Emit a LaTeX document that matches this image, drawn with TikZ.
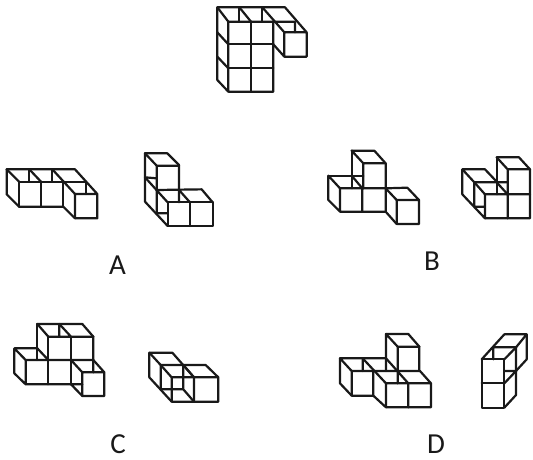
\documentclass[tikz,border=0pt]{standalone}
\usepackage{fontspec}
\setmainfont{Carlito}
\tikzset{
  cubeline/.style={draw=black!90,line width=2.2pt,line join=round,line cap=round},
  fig/.style={shift={#1},scale=0.33333},
  optlabel/.style={font=\fontsize{29}{29}\selectfont,text=black!90,inner sep=0pt}
}
\begin{document}
\begin{tikzpicture}[x=1pt,y=-1pt]
\useasboundingbox (0,0) rectangle (533,459);
% reference figure
\begin{scope}[fig={(200,0)}]
\draw[cubeline] (52,22)--(255,22)--(320,97)--(320,170)--(253,170)--(253,97)--(320,97);
\draw[cubeline] (52,22)--(52,240)--(85,275)--(220,275)--(220,65)--(85,65)--(85,275);
\draw[cubeline] (153,65)--(153,275) (85,133)--(220,133) (85,205)--(220,205);
\draw[cubeline] (52,22)--(85,65) (118,22)--(153,65) (187,22)--(253,97);
\draw[cubeline] (118,22)--(118,65) (187,22)--(187,65);
\draw[cubeline] (52,97)--(85,133) (52,170)--(85,205);
\draw[cubeline] (220,65)--(285,65)--(285,97) (220,133)--(253,170);
\end{scope}
% A left
\begin{scope}[fig={(0,145)}]
\draw[cubeline] (20,73)--(225,73)--(292,147)--(292,220)--(225,220)--(225,147)--(292,147);
\draw[cubeline] (20,73)--(20,148)--(57,185)--(190,185)--(225,220);
\draw[cubeline] (57,110)--(258,110)--(258,147);
\draw[cubeline] (57,110)--(57,185) (123,110)--(123,185) (190,110)--(190,185);
\draw[cubeline] (20,73)--(57,110) (88,73)--(123,110) (157,73)--(225,147);
\draw[cubeline] (88,73)--(88,110) (157,73)--(157,110);
\end{scope}
% A right
\begin{scope}[fig={(130,145)}]
\draw[cubeline] (45,25)--(112,25)--(147,60)--(147,172);
\draw[cubeline] (45,25)--(80,62)--(147,62) (80,62)--(80,205)--(113,205);
\draw[cubeline] (45,25)--(45,170)--(113,243);
\draw[cubeline] (45,97)--(113,172) (45,97)--(80,100);
\draw[cubeline] (113,172)--(248,172)--(248,243)--(113,243)--cycle (180,172)--(180,243);
\draw[cubeline] (80,135)--(215,133)--(248,172) (147,135)--(180,172);
\end{scope}
% B left
\begin{scope}[fig={(320,145)}]
\draw[cubeline] (95,17)--(163,17)--(197,55)--(197,200);
\draw[cubeline] (95,17)--(130,55)--(197,55) (130,55)--(130,130);
\draw[cubeline] (95,17)--(95,130) (25,92)--(130,92);
\draw[cubeline] (25,92)--(60,130)--(60,200)--(197,200) (25,92)--(25,165)--(60,200);
\draw[cubeline] (60,130)--(197,130) (127,130)--(127,200) (95,92)--(127,130);
\draw[cubeline] (197,130)--(262,128)--(297,165)--(297,237)--(230,237)--(230,165)--(297,165);
\draw[cubeline] (197,130)--(230,165) (197,200)--(230,237);
\end{scope}
% B right
\begin{scope}[fig={(455,150)}]
\draw[cubeline] (125,22)--(192,22)--(225,58)--(225,205)--(90,205);
\draw[cubeline] (125,22)--(158,58)--(225,58) (158,58)--(158,205) (90,133)--(225,133);
\draw[cubeline] (125,22)--(125,133);
\draw[cubeline] (22,58)--(90,58)--(125,95) (22,58)--(58,97)--(158,97);
\draw[cubeline] (22,58)--(22,133)--(90,205)--(90,133) (58,97)--(58,170)--(90,170);
\draw[cubeline] (58,97)--(90,133) (125,97)--(158,133);
\end{scope}
% C left
\begin{scope}[fig={(5,315)}]
\draw[cubeline] (97,27)--(232,27)--(265,65)--(265,172);
\draw[cubeline] (97,27)--(130,65)--(265,65) (163,27)--(198,65) (163,27)--(163,65);
\draw[cubeline] (97,27)--(97,135) (130,65)--(130,208) (198,65)--(198,208);
\draw[cubeline] (28,100)--(97,100) (28,100)--(62,135)--(62,208) (28,100)--(28,175)--(62,208)--(198,208);
\draw[cubeline] (62,135)--(265,135)--(298,172)--(298,243)--(232,243)--(232,172)--(298,172);
\draw[cubeline] (97,100)--(130,135) (198,135)--(232,172) (198,208)--(232,243) (198,208)--(232,208);
\end{scope}
% C right
\begin{scope}[fig={(140,340)}]
\draw[cubeline] (28,38)--(97,38)--(162,112) (28,38)--(28,112)--(95,185);
\draw[cubeline] (28,38)--(62,75)--(62,148)--(130,148)--(162,185) (130,75)--(130,148);
\draw[cubeline] (62,75)--(197,75)--(235,112)--(235,185)--(95,185)--(95,112)--(235,112);
\draw[cubeline] (62,75)--(95,112) (130,75)--(162,112) (162,112)--(162,185);
\end{scope}
% D left
\begin{scope}[fig={(330,325)}]
\draw[cubeline] (168,27)--(235,27)--(268,65)--(268,138);
\draw[cubeline] (168,27)--(203,65)--(268,65) (203,65)--(203,175) (168,27)--(168,138);
\draw[cubeline] (30,100)--(168,100) (30,100)--(65,138)--(65,212)--(130,212)--(130,138)--(65,138);
\draw[cubeline] (30,100)--(30,175)--(65,212) (98,100)--(98,138) (98,100)--(168,175);
\draw[cubeline] (130,138)--(270,138)--(303,175)--(303,247)--(168,247)--(168,175)--(303,175);
\draw[cubeline] (130,212)--(168,247) (235,175)--(235,247) (168,100)--(235,175);
\end{scope}
% D right
\begin{scope}[fig={(470,325)}]
\draw[cubeline] (35,103)--(103,103)--(103,248)--(35,248)--cycle (35,175)--(103,175);
\draw[cubeline] (35,103)--(103,28)--(170,28)--(138,67)--(70,67)--(70,103);
\draw[cubeline] (103,103)--(138,67)--(138,210)--(103,248);
\draw[cubeline] (170,28)--(170,103)--(138,138)--(103,138) (103,175)--(138,138);
\end{scope}
\node[optlabel] (labA) at (117.5,265) {A};
\node[optlabel] (labB) at (432,261) {B};
\node[optlabel] (labC) at (118,444.5) {C};
\node[optlabel] (labD) at (436,444) {D};
\end{tikzpicture}
\end{document}
